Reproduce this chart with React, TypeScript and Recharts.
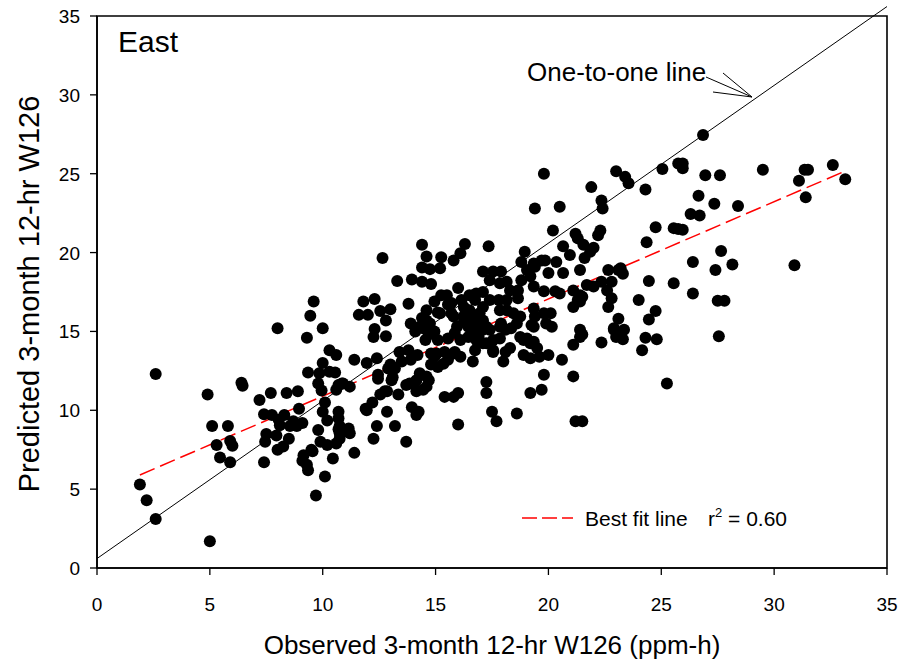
import React from 'react';
import { ScatterChart, Scatter, XAxis, YAxis, ReferenceLine, ReferenceArea } from 'recharts';

// ---------- data (Observed, Predicted) ----------
const clusterLow: [number, number][] = [
  [1.9,5.3],[2.2,4.3],[2.6,3.1],[2.6,12.3],[5.0,1.7],[4.9,11.0],[6.4,11.75],[6.45,11.55],[5.1,9.0],[5.8,9.0],
  [5.3,7.8],[5.9,8.05],[6.0,7.75],[5.45,7.0],[5.9,6.7],[7.2,10.65],[7.7,11.1],[8.4,11.1],[8.9,11.2],[8.95,10.1],
  [7.4,9.75],[7.75,9.7],[8.05,9.4],[8.1,9.05],[7.5,8.5],[7.95,8.4],[7.45,8.0],[8.5,8.2],[8.25,7.7],[8.0,7.5],
  [7.4,6.7],[8.85,9.0],[9.1,9.2],[9.35,12.4],[9.85,12.35],[10.0,13.0],[10.3,13.8],[10.6,13.5],[10.55,12.4],[9.8,11.7],
  [9.95,11.25],[10.7,11.6],[10.1,10.5],[10.0,9.9],[10.7,9.9],[10.7,9.5],[10.2,9.35],[9.8,8.75],[10.7,8.8],[9.9,8.0],
  [10.2,7.8],[10.6,7.9],[9.15,7.15],[9.55,7.4],[9.1,6.8],[9.35,6.2],[10.45,6.95],[10.1,5.8],[9.7,4.6],[9.3,14.6],
  [8.0,15.2],[9.6,16.9],[9.45,16.0],[10.0,15.2],[8.55,9.0],[8.3,9.7],[8.7,9.3],[9.3,6.55],[9.5,7.5],[11.4,7.3],
  [10.75,9.0],[11.15,8.85],[10.75,8.55],[11.2,8.55],[10.75,8.2],[10.3,12.45],[10.85,11.7],[10.6,11.3],[11.2,11.5],[10.9,11.7],
];

const clusterMid: [number, number][] = [
  [14.4,20.5],[12.65,19.65],[14.6,19.75],[14.4,19.05],[14.75,18.95],[13.3,18.2],[13.95,18.3],[14.4,18.15],[14.8,18.0],[11.8,16.9],
  [12.3,17.05],[11.6,16.05],[12.0,16.05],[12.55,16.3],[13.0,16.4],[12.8,15.7],[12.3,15.15],[12.25,14.65],[12.8,14.7],[13.8,16.75],
  [13.9,15.5],[14.3,15.3],[14.6,15.7],[14.95,16.9],[15.1,16.2],[15.55,16.7],[15.2,16.15],[15.7,16.15],[14.1,15.0],[14.4,15.85],
  [14.45,15.2],[14.75,15.5],[14.7,14.8],[14.95,15.0],[15.1,14.45],[14.55,14.45],[11.4,13.2],[11.95,13.0],[12.4,13.3],[12.45,12.25],
  [13.0,12.9],[13.2,12.65],[13.1,12.1],[12.75,11.2],[13.35,11.0],[13.7,11.6],[14.1,11.8],[14.3,12.35],[14.7,11.9],[14.6,11.5],
  [14.15,11.2],[14.8,12.9],[15.05,13.6],[11.9,10.1],[12.2,10.5],[12.4,9.0],[13.2,9.0],[12.25,8.2],[13.7,8.0],[13.95,10.2],
  [14.25,9.9],[12.45,12.0],[12.9,12.65],[13.4,13.7],[13.8,13.8],[13.9,13.2],[14.2,13.5],[13.5,13.1],[14.8,13.6],[15.4,13.7],
  [15.55,13.2],[15.1,12.75],[15.85,13.7],[14.6,12.15],[14.15,11.9],[13.85,11.7],[14.45,11.3],[13.05,11.9],[12.85,11.2],[12.55,11.0],
  [15.4,10.85],[15.8,10.85],[16.0,11.1],[11.95,10.0],[12.85,9.9],[14.15,9.7],[16.1,13.4],[15.8,13.6],[15.35,12.95],[14.95,13.4],
  [16.65,13.1],[15.25,17.3],[14.6,16.35],[15.8,15.95],[15.95,15.3],[15.5,17.3],[15.55,14.55],[15.85,14.9],[16.0,17.75],[15.7,16.8],
  [15.8,19.5],[15.25,19.7],[15.2,19.0],[16.3,20.55],[16.1,19.95],
];

const clusterUpper: [number, number][] = [
  [20.2,21.4],[21.2,21.2],[21.3,20.9],[22.3,21.4],[22.2,21.1],[20.65,20.4],[20.95,19.85],[21.55,20.5],[21.85,20.05],[22.0,20.3],
  [21.6,19.65],[18.95,20.05],[18.8,19.4],[19.35,19.3],[19.85,19.5],[20.35,19.4],[20.0,18.7],[20.65,18.7],[21.4,18.9],[17.35,20.4],
  [17.1,18.8],[17.55,18.8],[17.9,18.8],[17.4,18.25],[17.85,18.05],[18.15,18.15],[19.05,18.9],[19.2,18.5],[18.8,18.25],[19.35,17.85],
  [19.8,17.55],[20.3,17.55],[20.5,17.4],[21.1,17.6],[21.4,17.3],[21.7,17.95],[22.0,17.85],[22.35,18.15],[22.65,18.9],[22.8,18.15],
  [22.6,17.6],[22.8,17.1],[22.65,16.55],[17.1,17.5],[16.8,17.4],[16.75,17.0],[17.1,16.55],[17.4,17.0],[17.8,17.0],[18.15,17.0],
  [18.65,17.1],[18.15,16.35],[18.45,16.15],[18.75,15.95],[17.85,16.35],[16.15,17.0],[16.5,17.3],[16.25,16.55],[16.5,16.35],[16.95,16.15],
  [17.1,15.7],[16.75,15.7],[17.25,15.3],[16.25,15.6],[16.45,15.3],[16.8,15.1],[16.9,14.7],[18.1,15.1],[17.85,15.3],[18.35,15.2],
  [18.75,14.65],[18.9,14.45],[19.2,14.25],[19.5,13.95],[18.3,13.95],[18.1,13.7],[19.35,16.45],[19.4,15.95],[19.8,16.15],[20.1,16.15],
  [19.9,15.5],[20.15,15.3],[19.35,15.3],[21.3,17.0],[21.1,16.55],[21.4,15.1],[21.4,14.65],[21.1,14.15],[22.35,14.3],[22.9,15.2],
  [23.0,14.65],[23.1,15.8],[17.85,14.55],[17.25,14.25],[17.55,13.7],[18.0,13.1],[18.9,13.5],[19.2,13.3],[19.6,13.4],[20.0,13.5],
  [20.6,13.2],[19.8,12.25],[19.7,11.3],[19.2,11.1],[21.1,12.15],[17.25,11.8],[17.25,11.1],[17.5,9.9],[17.7,9.3],[18.6,9.8],
  [16.0,9.1],[21.2,9.3],[21.5,9.3],[18.3,17.6],[18.65,17.6],[19.4,19.1],[19.7,19.5],[16.7,17.3],[16.6,15.95],[16.25,15.95],
  [16.95,15.5],[17.9,15.5],[18.6,15.5],[16.1,14.45],[16.45,14.65],[16.65,14.9],[17.1,15.1],[17.4,15.1],[16.8,14.45],[17.1,14.25],
  [17.55,14.45],[16.75,13.8],[17.55,13.8],[19.05,14.55],[19.35,14.35],[19.25,15.4],[19.8,25.0],[19.4,22.8],[20.5,22.9],[21.9,24.15],
  [22.35,23.3],[22.4,22.8],[23.2,19.0],[23.3,18.65],[21.4,16.9],[21.5,17.2],[22.9,15.1],[23.35,15.1],[23.3,14.5],[21.5,14.8],
  [23.1,18.9],
];

const clusterHigh: [number, number][] = [
  [26.85,27.45],[25.75,25.65],[25.95,25.65],[25.95,25.35],[25.05,25.3],[23.0,25.15],[23.4,24.8],[23.55,24.4],[24.3,24.0],[26.95,24.9],
  [27.6,24.9],[29.5,25.25],[31.35,25.25],[31.5,25.25],[32.6,25.55],[33.15,24.65],[31.1,24.55],[31.4,23.5],[26.65,23.6],[27.35,23.1],
  [28.4,22.95],[26.3,22.45],[26.7,22.35],[24.75,21.6],[25.55,21.55],[25.75,21.5],[25.95,21.45],[24.35,20.65],[27.65,20.1],[26.4,19.4],
  [27.4,18.9],[28.15,19.25],[30.9,19.2],[24.45,18.2],[25.55,18.05],[26.4,17.4],[24.0,17.0],[27.5,16.95],[27.8,16.95],[24.75,16.3],
  [24.45,15.75],[24.3,14.6],[24.8,14.5],[24.15,13.8],[27.55,14.7],[25.25,11.7],
];

const axisTicks = [0, 5, 10, 15, 20, 25, 30, 35];
const oneToOneEnds = [{ x: 0, y: 0.6 }, { x: 35, y: 35.6 }];
const bestFitEnds = [{ x: 1.9, y: 5.9 }, { x: 33.2, y: 25.2 }];
const rSquared = '0.60';

const allPoints = [...clusterLow, ...clusterMid, ...clusterUpper, ...clusterHigh].map(([x, y]) => ({ x, y }));

// ---------- layout (page pixels; body margin removed) ----------
const W = 901;
const H = 666;
const Y_AXIS_W = 89;
const X_AXIS_H = 98;
const MARGIN = { top: 16, right: 14, left: 8, bottom: 0 };
const FONT = '"Liberation Sans", Arial, sans-serif';

const Dot = (props: any) => {
  const { cx, cy } = props;
  if (cx == null || cy == null) return null;
  return <circle cx={cx} cy={cy} r={6} fill="#000" />;
};

const XTick = (props: any) => {
  const { x, y, payload } = props;
  return (
    <text x={x} y={y + 36} textAnchor="middle" fontSize={19} fill="#000" fontFamily={FONT}>
      {payload.value}
    </text>
  );
};

const YTick = (props: any) => {
  const { x, y, payload } = props;
  return (
    <text x={x - 10} y={y + 7} textAnchor="end" fontSize={19} fill="#000" fontFamily={FONT}>
      {payload.value}
    </text>
  );
};

export default function App() {
  return (
    <div style={{ position: 'relative', width: W, height: H, fontFamily: FONT, background: '#fff', overflow: 'hidden' }}>
      <style>{'html,body{margin:0;padding:0;overflow:hidden;}'}</style>
      <ScatterChart width={W} height={H} margin={MARGIN}>
        <XAxis
          type="number"
          dataKey="x"
          domain={[0, 35]}
          ticks={axisTicks}
          interval={0}
          allowDataOverflow
          height={X_AXIS_H}
          tickSize={7}
          tickMargin={0}
          axisLine={{ stroke: '#000', strokeWidth: 1.6 }}
          tickLine={{ stroke: '#000', strokeWidth: 1.3 }}
          tick={<XTick />}
        />
        <YAxis
          type="number"
          dataKey="y"
          domain={[0, 35]}
          ticks={axisTicks}
          interval={0}
          allowDataOverflow
          width={Y_AXIS_W}
          tickSize={7}
          tickMargin={0}
          axisLine={{ stroke: '#000', strokeWidth: 1.6 }}
          tickLine={{ stroke: '#000', strokeWidth: 1.3 }}
          tick={<YTick />}
        />
        <ReferenceArea x1={0} x2={35} y1={0} y2={35} fill="none" stroke="#000" strokeWidth={1.6} />
        <Scatter data={allPoints} shape={Dot} isAnimationActive={false} />
        <ReferenceLine
          segment={oneToOneEnds}
          stroke="#000"
          strokeWidth={1}
          ifOverflow="visible"
        />
        <ReferenceLine
          segment={bestFitEnds}
          stroke="#ff0000"
          strokeWidth={1.5}
          strokeDasharray="16 6"
        />
      </ScatterChart>
      <svg
        width={W}
        height={H}
        style={{ position: 'absolute', left: 0, top: 0, pointerEvents: 'none' }}
        fontFamily={FONT}
      >
        <text x={118} y={52} fontSize={30} fill="#000">East</text>
        <text x={527} y={81} fontSize={26} fill="#000">One-to-one line</text>
        <g stroke="#000" strokeWidth={1}>
          <line x1={706} y1={77} x2={752} y2={97} />
          <line x1={723} y1={73} x2={752} y2={97} />
          <line x1={713} y1={92} x2={752} y2={97} />
        </g>
        <line x1={522} y1={518} x2={573} y2={518} stroke="#ff0000" strokeWidth={1.5} strokeDasharray="15 5" />
        <text x={585} y={526} fontSize={21} fill="#000">Best fit line</text>
        <text x={708} y={526} fontSize={21} fill="#000">
          r
          <tspan fontSize={13} dy={-9}>2</tspan>
          <tspan dy={9}> = {rSquared}</tspan>
        </text>
        <text x={492} y={654} fontSize={26} fill="#000" textAnchor="middle">
          Observed 3-month 12-hr W126 (ppm-h)
        </text>
        <text
          x={0}
          y={0}
          fontSize={29}
          fill="#000"
          textAnchor="middle"
          transform="translate(39, 294) rotate(-90)"
        >
          Predicted 3-month 12-hr W126
        </text>
      </svg>
    </div>
  );
}
